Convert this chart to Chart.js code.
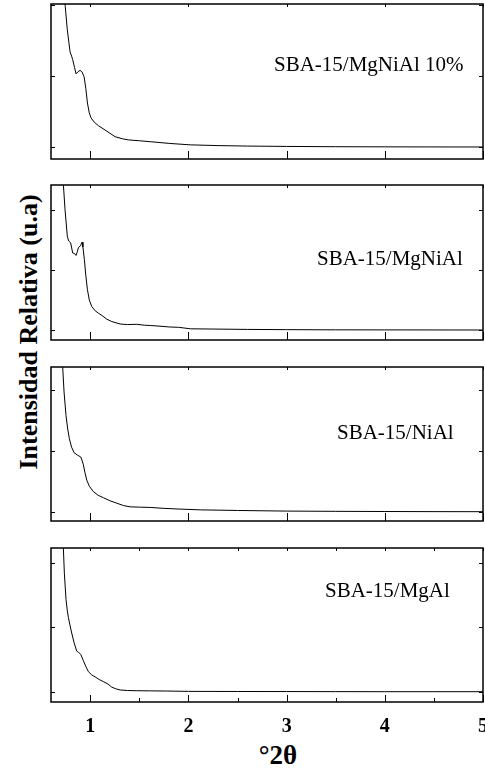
<!DOCTYPE html>
<html>
<head>
<meta charset="utf-8">
<script src="https://cdn.jsdelivr.net/npm/chart.js@4.4.1/dist/chart.umd.min.js"></script>
<style>
  body { margin: 0; width: 485px; height: 769px; background: #fff; position: relative; overflow: hidden;
         font-family: 'Liberation Serif', 'Times New Roman', serif; color: #000; }
  canvas { position: absolute; left: 0; }
  .lbl { position: absolute; font-size: 21px; line-height: 21px; white-space: nowrap; }
  #ytitle { position: absolute; left: 29px; top: 332px; font-weight: bold; font-size: 26px; line-height: 26px;
            white-space: nowrap; transform: translate(-50%, -50%) rotate(-90deg); }
  #xtitle { position: absolute; left: 278px; top: 755px; font-weight: bold; font-size: 27px; line-height: 27px;
            white-space: nowrap; transform: translate(-50%, -50%); }
</style>
</head>
<body>
<div id="ytitle">Intensidad Relativa (u.a)</div>
<div id="xtitle">°2θ</div>
<script>
// 数据：四条曲线（°2θ / 相对强度，任意单位）
const sampleNames = ['SBA-15/MgNiAl 10%', 'SBA-15/MgNiAl', 'SBA-15/NiAl', 'SBA-15/MgAl'];
const xTicks = [1, 2, 3, 4, 5];
const xMinorTicks = [1.5, 2.5, 3.5, 4.5];
const yTicks = [0, 1, 2];

const mgNiAl10X = [0.72, 0.745, 0.766, 0.794, 0.81, 0.821, 0.84, 0.855, 0.875, 0.896, 0.915, 0.937, 0.955, 0.971, 0.99, 1.008, 1.04, 1.083, 1.15, 1.253, 1.33, 1.389, 1.5, 1.61, 1.81, 2.02, 2.3, 2.6, 3.0, 3.5, 4.0, 4.5, 5.0];
const mgNiAl10Y = [2.4, 1.98, 1.65, 1.34, 1.28, 1.23, 1.12, 1.03, 1.06, 1.08, 1.06, 0.99, 0.82, 0.62, 0.48, 0.41, 0.35, 0.30, 0.24, 0.145, 0.115, 0.10, 0.088, 0.075, 0.05, 0.03, 0.02, 0.013, 0.008, 0.004, 0.002, 0.001, 0.0];

const mgNiAlX = [0.72, 0.726, 0.743, 0.766, 0.78, 0.80, 0.821, 0.84, 0.855, 0.868, 0.879, 0.9, 0.916, 0.925, 0.94, 0.955, 0.971, 0.99, 1.015, 1.05, 1.083, 1.12, 1.168, 1.22, 1.304, 1.38, 1.474, 1.55, 1.61, 1.7, 1.81, 1.9, 2.02, 2.3, 2.6, 3.0, 3.5, 4.0, 4.5, 5.0];
const mgNiAlY = [2.6, 2.42, 2.0, 1.56, 1.48, 1.45, 1.28, 1.27, 1.24, 1.30, 1.37, 1.40, 1.46, 1.38, 1.17, 0.90, 0.67, 0.50, 0.39, 0.32, 0.28, 0.24, 0.18, 0.14, 0.10, 0.09, 0.095, 0.08, 0.075, 0.065, 0.05, 0.045, 0.02, 0.015, 0.01, 0.006, 0.003, 0.002, 0.001, 0.0];

const niAlX = [0.715, 0.719, 0.733, 0.753, 0.77, 0.787, 0.81, 0.835, 0.87, 0.903, 0.915, 0.93, 0.945, 0.964, 0.99, 1.032, 1.08, 1.134, 1.2, 1.27, 1.34, 1.406, 1.5, 1.61, 1.75, 1.883, 2.12, 2.5, 3.0, 3.5, 4.0, 4.5, 5.0];
const niAlY = [2.6, 2.38, 1.97, 1.58, 1.36, 1.20, 1.06, 0.97, 0.93, 0.90, 0.85, 0.77, 0.65, 0.52, 0.42, 0.33, 0.27, 0.23, 0.18, 0.14, 0.10, 0.08, 0.075, 0.07, 0.055, 0.045, 0.03, 0.02, 0.01, 0.006, 0.003, 0.001, 0.0];

const mgAlX = [0.72, 0.726, 0.736, 0.753, 0.765, 0.777, 0.795, 0.811, 0.835, 0.862, 0.88, 0.903, 0.93, 0.955, 0.981, 1.015, 1.049, 1.09, 1.134, 1.18, 1.219, 1.26, 1.304, 1.38, 1.474, 1.6, 1.78, 2.0, 2.5, 3.0, 3.5, 4.0, 4.5, 5.0];
const mgAlY = [2.5, 2.23, 1.84, 1.43, 1.27, 1.15, 1.02, 0.91, 0.76, 0.63, 0.61, 0.58, 0.48, 0.39, 0.31, 0.26, 0.23, 0.19, 0.155, 0.12, 0.07, 0.045, 0.026, 0.018, 0.015, 0.013, 0.01, 0.005, 0.003, 0.002, 0.001, 0.0, 0.0, 0.0];

const seriesX = [mgNiAl10X, mgNiAlX, niAlX, mgAlX];
const seriesY = [mgNiAl10Y, mgNiAlY, niAlY, mgAlY];
const yMins = [-0.169, -0.166, -0.153, -0.16];
const yMaxs = [2.014, 2.41, 2.38, 2.23];

// 版面：每个面板的上下边界（像素）和标签位置
const panelTops = [4, 185, 367, 548];
const panelBottoms = [159, 340, 521, 702];
const labelLefts = [274, 317, 337, 325];
const labelTops = [54, 248, 422, 580];

Chart.defaults.font.family = 'Liberation Serif';
Chart.defaults.color = '#000';

// 边框与向内的刻度
function makeFrame(isLast) {
  return {
    id: 'frame',
    afterDraw(chart) {
      const { ctx, chartArea: a, scales: { x, y } } = chart;
      ctx.save();
      ctx.strokeStyle = '#000';
      ctx.lineWidth = 1;
      ctx.beginPath();
      xTicks.forEach(v => {
        const px = Math.round(x.getPixelForValue(v)) + 0.5;
        ctx.moveTo(px, a.bottom); ctx.lineTo(px, a.bottom - (isLast ? 7 : 8));
        ctx.moveTo(px, a.top); ctx.lineTo(px, a.top + 3);
      });
      if (isLast) {
        xMinorTicks.forEach(v => {
          const px = Math.round(x.getPixelForValue(v)) + 0.5;
          ctx.moveTo(px, a.bottom); ctx.lineTo(px, a.bottom - 4);
          ctx.moveTo(px, a.top); ctx.lineTo(px, a.top + 3);
        });
      }
      yTicks.forEach(v => {
        const py = Math.round(y.getPixelForValue(v)) + 0.5;
        ctx.moveTo(a.left, py); ctx.lineTo(a.left + 4, py);
        ctx.moveTo(a.right, py); ctx.lineTo(a.right - 4, py);
      });
      ctx.stroke();
      ctx.lineWidth = 1.5;
      ctx.strokeRect(a.left, a.top, a.right - a.left, a.bottom - a.top);
      ctx.restore();
    }
  };
}

sampleNames.forEach((name, i) => {
  const isLast = i === sampleNames.length - 1;
  const canvasTop = panelTops[i] - 10;
  const canvasHeight = isLast ? 769 - canvasTop : panelBottoms[i] - panelTops[i] + 20;

  const cv = document.createElement('canvas');
  cv.width = 485; cv.height = canvasHeight;
  cv.style.width = '485px'; cv.style.height = canvasHeight + 'px';
  cv.style.top = canvasTop + 'px';
  document.body.appendChild(cv);

  const lbl = document.createElement('div');
  lbl.className = 'lbl';
  lbl.textContent = name;
  lbl.style.left = labelLefts[i] + 'px';
  lbl.style.top = labelTops[i] + 'px';
  document.body.appendChild(lbl);

  const xScale = {
    type: 'linear', min: 0.6, max: 5, display: isLast,
    grid: { display: false, drawTicks: false },
    border: { display: false },
    afterBuildTicks: s => { s.ticks = xTicks.map(v => ({ value: v })); },
    ticks: { color: '#000', padding: 13, maxRotation: 0, autoSkip: false,
             font: { size: 20, weight: 'bold' } }
  };
  if (isLast) {
    xScale.afterFit = s => { s.height = 769 - panelBottoms[i]; s.paddingLeft = 0; s.paddingRight = 0; };
  }

  new Chart(cv, {
    type: 'line',
    data: {
      datasets: [{
        data: seriesX[i].map((x, j) => ({ x, y: seriesY[i][j] })),
        borderColor: '#000',
        borderWidth: 1,
        pointRadius: 0,
        tension: 0,
        fill: false,
      }]
    },
    options: {
      responsive: false,
      animation: false,
      devicePixelRatio: 1,
      events: [],
      layout: { padding: { left: 51, right: 2, top: 10, bottom: isLast ? 0 : 10 } },
      plugins: { legend: { display: false }, tooltip: { enabled: false } },
      scales: {
        x: xScale,
        y: { type: 'linear', min: yMins[i], max: yMaxs[i], display: false }
      }
    },
    plugins: [makeFrame(isLast)]
  });
});
</script>
</body>
</html>
